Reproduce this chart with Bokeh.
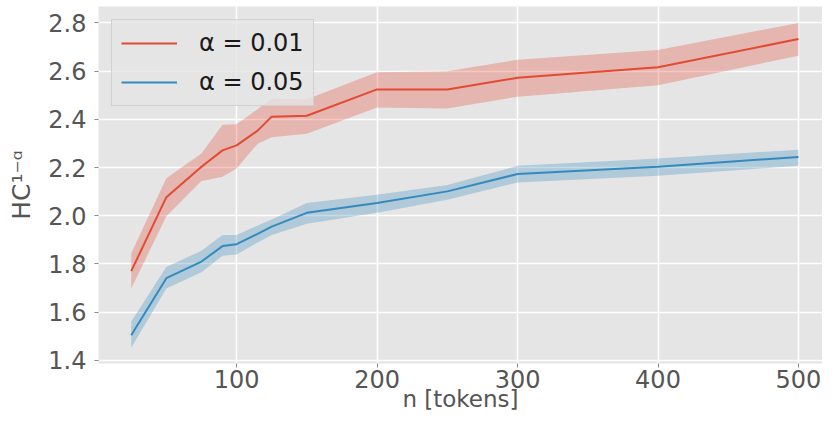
from bokeh.plotting import figure
from bokeh.models import Range1d, FixedTicker, Legend, LegendItem, PrintfTickFormatter
from bokeh.embed import file_html
from bokeh.resources import INLINE

# ---- data ----
n_tokens = [25, 50, 75, 90, 100, 115, 125, 150, 200, 250, 300, 400, 500]

hc_a001 = [1.770, 2.077, 2.203, 2.271, 2.292, 2.353, 2.411, 2.415, 2.524, 2.524, 2.572, 2.616, 2.733]
hc_a001_lo = [1.698, 1.998, 2.144, 2.162, 2.196, 2.299, 2.326, 2.340, 2.449, 2.445, 2.494, 2.541, 2.664]
hc_a001_hi = [1.844, 2.155, 2.258, 2.377, 2.380, 2.442, 2.486, 2.483, 2.595, 2.599, 2.647, 2.688, 2.800]

hc_a005 = [1.504, 1.741, 1.810, 1.874, 1.882, 1.925, 1.955, 2.012, 2.053, 2.101, 2.173, 2.203, 2.244]
hc_a005_lo = [1.452, 1.698, 1.766, 1.834, 1.839, 1.889, 1.920, 1.967, 2.012, 2.066, 2.138, 2.166, 2.207]
hc_a005_hi = [1.561, 1.787, 1.855, 1.920, 1.920, 1.959, 1.984, 2.053, 2.087, 2.128, 2.207, 2.237, 2.274]

series_labels = ["α = 0.01", "α = 0.05"]
series_colors = ["#E24A33", "#348ABD"]

x_ticks = [100, 200, 300, 400, 500]
y_ticks = [1.4, 1.6, 1.8, 2.0, 2.2, 2.4, 2.6, 2.8]

x_label = "n [tokens]"
y_label = "HC¹⁻ᵅ"

FONT = "DejaVu Sans"
GREY = "#555555"

p = figure(width=822, height=414, output_backend="svg", toolbar_location=None,
           x_range=Range1d(1.7, 517.1), y_range=Range1d(1.387, 2.868),
           min_border_left=98, min_border_top=6, min_border_right=0, min_border_bottom=0)

p.background_fill_color = "#E5E5E5"
p.border_fill_color = "white"
p.outline_line_color = None

p.grid.grid_line_color = "white"
p.grid.grid_line_width = 1.6

p.axis.axis_line_color = None
p.axis.major_tick_line_color = "#8a8a8a"
p.axis.major_tick_out = 4
p.axis.major_tick_in = 0
p.axis.minor_tick_line_color = None
p.axis.major_label_text_font = FONT
p.axis.major_label_text_font_size = "24px"
p.axis.major_label_text_color = GREY
p.axis.axis_label_text_font = FONT
p.axis.axis_label_text_font_style = "normal"
p.axis.axis_label_text_color = GREY

p.xaxis.ticker = FixedTicker(ticks=x_ticks)
p.yaxis.ticker = FixedTicker(ticks=y_ticks)
p.xaxis.formatter = PrintfTickFormatter(format="%d")
p.yaxis.formatter = PrintfTickFormatter(format="%.1f")
p.xaxis.major_label_standoff = 2
p.yaxis.major_label_standoff = 8

p.xaxis.axis_label = x_label
p.xaxis.axis_label_text_font_size = "23px"
p.xaxis.axis_label_standoff = -5
p.yaxis.axis_label = y_label
p.yaxis.axis_label_text_font_size = "25px"
p.yaxis.axis_label_standoff = 9

series = [
    (hc_a001, hc_a001_lo, hc_a001_hi),
    (hc_a005, hc_a005_lo, hc_a005_hi),
]
items = []
for (mid, lo, hi), col, lab in zip(series, series_colors, series_labels):
    p.varea(x=n_tokens, y1=lo, y2=hi, fill_color=col, fill_alpha=0.3)
    r = p.line(n_tokens, mid, line_color=col, line_width=2)
    items.append(LegendItem(label=lab, renderers=[r]))

legend = Legend(items=items, location="top_left", margin=13, padding=9, spacing=11,
                glyph_width=56, glyph_height=28, label_height=28, label_standoff=22,
                label_text_font=FONT, label_text_font_size="24px", label_text_color="#1a1a1a",
                background_fill_color="#E5E5E5", background_fill_alpha=0.8,
                border_line_color="#cccccc", border_line_alpha=0.8)
p.add_layout(legend)

open("out.html", "w").write(file_html(p, INLINE))
